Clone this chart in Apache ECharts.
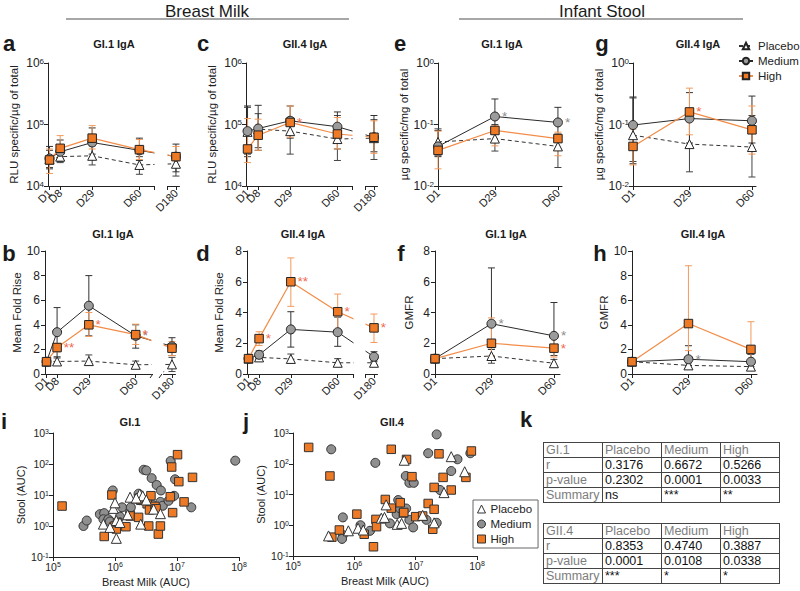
<!DOCTYPE html>
<html><head><meta charset="utf-8">
<script src="https://cdn.jsdelivr.net/npm/echarts@6/dist/echarts.min.js"></script>
<style>
html,body{margin:0;padding:0;background:#fff;}
#wrap{position:relative;width:800px;height:591px;overflow:hidden;}
#chart{position:absolute;left:0;top:0;width:800px;height:591px;}
table.k{position:absolute;border-collapse:collapse;font-family:'Liberation Sans',Arial,sans-serif;font-size:12.5px;color:#111;table-layout:fixed;}
table.k td{border:1.5px solid #444;height:14px;line-height:14px;padding:0 0 0 2px;white-space:nowrap;overflow:hidden;width:56px;}
table.k td.g{color:#7d7d7d;}
</style></head>
<body><div id="wrap"><div id="chart"></div></div>
<script>
// ---------------- DATA ----------------
const days = [1, 8, 29, 60, 180];
const stoolDays = [1, 29, 60];
const groups = ['Placebo', 'Medium', 'High'];

// a: GI.1 IgA breast milk (RLU specific/ug of total)
const aPlacebo = [27000, 30000, 31000, 22000, 23000];
const aPlaceboLo = [20000, 24000, 22000, 15500, 14500];
const aPlaceboHi = [38000, 40000, 45000, 30000, 35000];
const aMedium = [28000, 36000, 51000, 38000, 30000];
const aMediumLo = [19000, 25000, 33000, 26000, 17000];
const aMediumHi = [44000, 56000, 88000, 60000, 48000];
const aHigh = [26500, 41000, 60000, 39000, 30000];
const aHighLo = [16000, 28000, 40000, 27000, 20000];
const aHighHi = [40000, 66000, 96000, 57000, 44000];

// c: GII.4 IgA breast milk
const cPlacebo = [76000, 84000, 78000, 58000, 60000];
const cPlaceboLo = [30000, 42000, 33000, 26000, 27000];
const cPlaceboHi = [190000, 150000, 130000, 140000, 120000];
const cMedium = [78000, 86000, 115000, 92000, 62000];
const cMediumLo = [33000, 38000, 60000, 40000, 36000];
const cMediumHi = [200000, 205000, 200000, 160000, 140000];
const cHigh = [40000, 67000, 108000, 70000, 62000];
const cHighLo = [24000, 38000, 62000, 40000, 34000];
const cHighHi = [125000, 122000, 200000, 130000, 115000];
const cHighSig = ['', '', '*', '', ''];

// e: GI.1 IgA infant stool (ug specific/mg of total)
const ePlacebo = [0.052, 0.059, 0.044];
const ePlaceboLo = [0.031, 0.037, 0.020];
const ePlaceboHi = [0.085, 0.100, 0.070];
const eMedium = [0.044, 0.135, 0.108];
const eMediumLo = [0.030, 0.090, 0.065];
const eMediumHi = [0.080, 0.260, 0.190];
const eHigh = [0.038, 0.080, 0.059];
const eHighLo = [0.019, 0.045, 0.031];
const eHighHi = [0.078, 0.095, 0.075];
const eMediumSig = ['', '*', '*'];

// g: GII.4 IgA infant stool
const gPlacebo = [0.067, 0.048, 0.043];
const gPlaceboLo = [0.025, 0.017, 0.014];
const gPlaceboHi = [0.270, 0.150, 0.140];
const gMedium = [0.098, 0.125, 0.115];
const gMediumLo = [0.023, 0.050, 0.050];
const gMediumHi = [0.280, 0.330, 0.290];
const gHigh = [0.044, 0.160, 0.082];
const gHighLo = [0.022, 0.068, 0.033];
const gHighHi = [0.085, 0.390, 0.200];
const gHighSig = ['', '*', ''];

// b: GI.1 IgA mean fold rise
const bPlacebo = [1, 1.02, 1.05, 0.75, 0.78];
const bPlaceboLo = [1, 0.85, 0.80, 0.55, 0.20];
const bPlaceboHi = [1, 1.30, 1.55, 1.05, 1.35];
const bMedium = [1, 3.4, 5.55, 3.1, 2.25];
const bMediumLo = [1, 1.4, 3.1, 2.1, 1.5];
const bMediumHi = [1, 5.4, 8.0, 4.0, 2.95];
const bHigh = [1, 2.15, 4.0, 3.2, 2.1];
const bHighLo = [1, 1.8, 3.05, 2.4, 1.5];
const bHighHi = [1, 2.5, 5.0, 4.05, 2.65];
const bHighSig = ['', '**', '*', '*', ''];
const bMediumSig = ['', '', '', '*', ''];

// d: GII.4 IgA mean fold rise
const dPlacebo = [1, 1.08, 0.98, 0.73, 0.73];
const dPlaceboLo = [1, 0.95, 0.75, 0.50, 0.60];
const dPlaceboHi = [1, 1.20, 1.30, 1.00, 0.90];
const dMedium = [1, 1.25, 2.9, 2.72, 1.12];
const dMediumLo = [1, 1.0, 1.75, 1.8, 0.8];
const dMediumHi = [1, 1.5, 4.05, 3.7, 1.45];
const dHigh = [1, 2.3, 6.0, 4.05, 3.0];
const dHighLo = [1, 1.85, 4.4, 2.9, 2.05];
const dHighHi = [1, 2.75, 7.55, 5.2, 3.9];
const dHighSig = ['', '*', '**', '*', '*'];

// f: GI.1 IgA GMFR (stool)
const fPlacebo = [1, 1.17, 0.70];
const fPlaceboLo = [1, 0.70, 0.45];
const fPlaceboHi = [1, 1.60, 0.95];
const fMedium = [1, 3.27, 2.48];
const fMediumLo = [1, 1.6, 1.2];
const fMediumHi = [1, 6.9, 4.65];
const fHigh = [1, 2.0, 1.68];
const fHighLo = [1, 1.2, 1.1];
const fHighHi = [1, 3.65, 2.65];
const fMediumSig = ['', '*', '*'];
const fHighSig = ['', '', '*'];

// h: GII.4 IgA GMFR (stool)
const hPlacebo = [1, 0.70, 0.60];
const hPlaceboLo = [1, 0.50, 0.40];
const hPlaceboHi = [1, 0.90, 0.80];
const hMedium = [1, 1.2, 1.0];
const hMediumLo = [1, 0.7, 0.6];
const hMediumHi = [1, 2.3, 1.6];
const hHigh = [1, 4.1, 2.0];
const hHighLo = [1, 1.9, 1.0];
const hHighHi = [1, 8.8, 4.25];
const hMediumSig = ['', '*', ''];

// i: GI.1 scatter [breast milk AUC, stool AUC]
const iHigh = [[1.4e5,4.4],[6.7e5,0.46],[8.9e5,10],[1.0e6,1.0],[1.05e6,0.8],[1.5e6,0.95],[1.75e6,2.1],[2.4e6,1.9],[2.6e6,6.8],[2.4e6,7.5],[3.3e6,5.2],[3.6e6,3.3],[3.5e6,1.0],[3.8e6,9.5],[4.4e6,4.3],[5.0e6,0.55],[5.4e6,1.0],[7.8e6,8.8],[8.2e6,80],[8.5e6,2.7],[1.02e7,200],[1.07e7,27],[1.3e7,6.0],[1.78e7,37],[1.1e6,1.3],[4.6e6,3.6]];
const iMedium = [[3.1e5,1.0],[3.5e5,1.5],[5.7e5,2.4],[6.7e5,2.6],[6.5e5,1.65],[7.8e5,1.65],[8.3e5,1.4],[9.2e5,14],[1.2e6,2.0],[1.3e6,4.0],[1.75e6,2.9],[1.8e6,4.0],[2.4e6,11],[2.5e6,6.8],[2.9e6,65],[3.2e6,62],[3.9e6,35],[4.0e6,4.8],[4.7e6,21],[5.5e6,14],[5.4e6,6.0],[5.9e6,4.5],[7.3e6,6.5],[7.9e6,125],[9.3e6,32],[9.0e6,9.4],[1.7e7,4.0],[8.7e7,128]];
const iPlacebo = [[6.5e5,1.15],[8.3e5,0.9],[9.4e5,3.7],[1.0e6,5.6],[1.05e6,1.5],[1.05e6,0.4],[1.2e6,1.3],[1.75e6,8.5],[2.5e6,10.7],[2.8e6,9.4],[2.6e6,1.15],[3.2e6,6.9],[4.2e6,3.5],[5.4e6,2.5],[2.2e6,8.0],[1.6e6,2.3]];

// j: GII.4 scatter
const jHigh = [[1.8e5,340],[4.0e5,40],[4.3e5,0.41],[5.7e5,0.7],[1.1e6,2.3],[1.45e6,0.51],[2.05e6,0.2],[2.25e6,1.55],[2.3e6,0.9],[3.2e6,6.9],[4.0e6,295],[4.0e6,3.6],[5.6e6,5.4],[6.3e6,2.5],[7.1e6,138],[8.7e6,38],[1.0e7,1.9],[1.6e7,5.1],[2.0e7,3.3],[2.0e7,17],[2.4e7,210],[2.8e7,36],[1.9e7,0.74],[3.8e7,14],[6.6e7,36],[8.1e7,260],[6.4e6,2.6],[1.3e7,2.0]];
const jMedium = [[4.2e5,295],[6.5e5,1.8],[6.5e5,0.48],[6.3e5,0.36],[1.26e6,1.0],[1.8e6,0.66],[2.2e6,107],[3.8e6,1.15],[4.9e6,2.3],[5.2e6,6.6],[5.6e6,3.5],[6.9e6,40],[7.9e6,24],[9.3e6,24],[7.0e6,3.5],[7.9e6,1.5],[9.1e6,0.85],[2.2e7,900],[1.6e7,220],[4.8e7,140],[7.8e7,220],[3.8e7,58],[2.5e7,14],[1.5e7,1.5],[2.2e7,1.2]];
const jPlacebo = [[3.8e5,0.45],[8.0e5,0.66],[1.15e6,0.8],[1.4e6,0.7],[2.75e6,1.7],[3.1e6,1.8],[3.3e6,4.6],[5.0e6,1.07],[6.5e6,130],[3.8e7,170],[6.3e7,55],[2.9e7,11.5],[1.3e7,2.1],[5.9e6,1.15],[2.0e7,1.2]];

// k: correlation tables
const tableGI1 = [['GI.1','Placebo','Medium','High'],['r','0.3176','0.6672','0.5266'],['p-value','0.2302','0.0001','0.0033'],['Summary','ns','***','**']];
const tableGII4 = [['GII.4','Placebo','Medium','High'],['r','0.8353','0.4740','0.3887'],['p-value','0.0001','0.0108','0.0338'],['Summary','***','*','*']];

// ---------------- STYLE ----------------
const FONT = "'Liberation Sans', Arial, Helvetica, sans-serif";
const INK = '#222';
const SIG_RED = '#F2674C', SIG_GRAY = '#8d8d8d';
const STYLE = {
  Placebo: {symbol:'triangle', size:9, fill:'#ffffff', line:'#333', lw:1, dash:[4,3], err:'#444', z:3},
  Medium:  {symbol:'circle', size:9, fill:'#9b9b9b', line:'#2a2a2a', lw:1, dash:'solid', err:'#333', z:4},
  High:    {symbol:'rect', size:8.5, fill:'#EE7A26', line:'#F28C48', lw:1.2, dash:'solid', err:'#F39A5C', z:5}
};

const option = {animation:false, textStyle:{fontFamily:FONT}, grid:[], xAxis:[], yAxis:[], series:[], legend:[], graphic:[]};

function supFmt(v){ return '{b|10}{s|' + Math.round(Math.log10(v)) + '}'; }
const supRich = (fs) => ({b:{fontSize:fs, color:INK, fontFamily:FONT}, s:{fontSize:Math.round(fs*0.68), color:INK, fontFamily:FONT, verticalAlign:'top'}});

function errRender(color){
  return function(params, api){
    const x = api.value(0), lo = api.value(1), hi = api.value(2);
    const a = api.coord([x, lo]), b = api.coord([x, hi]);
    const w = 3.5, st = {stroke:color, lineWidth:1};
    return {type:'group', children:[
      {type:'line', shape:{x1:a[0], y1:a[1], x2:b[0], y2:b[1]}, style:st},
      {type:'line', shape:{x1:a[0]-w, y1:a[1], x2:a[0]+w, y2:a[1]}, style:st},
      {type:'line', shape:{x1:b[0]-w, y1:b[1], x2:b[0]+w, y2:b[1]}, style:st}
    ]};
  };
}

function dayAxis(gi, p, labelDays, tickDays, showLine){
  const xa = {gridIndex:gi, type:'value', min:p.xmin, max:p.xmax, position:'bottom', offset:0,
    axisLine:{show:showLine, onZero:false, lineStyle:{color:INK, width:1}},
    axisTick:{show:!!tickDays, length:4, inside:false, customValues:tickDays || [], lineStyle:{color:INK, width:1}},
    axisLabel:{show:true, customValues:labelDays, rotate:45, formatter:v => 'D' + v, fontSize:11, color:INK, margin:5, fontFamily:FONT,
      hideOverlap:false, showMinLabel:true, showMaxLabel:true},
    splitLine:{show:false}};
  if (p.brk){
    xa.breaks = [p.brk];
    xa.breakArea = {show:showLine, expandOnClick:false, zigzagAmplitude:0, zigzagZ:100, itemStyle:{color:'#fff', borderColor:'#fff', borderWidth:0, opacity:1}};
    xa.breakLabelLayout = {moveOverlap:false};
  }
  return xa;
}

function linePanel(p){
  const gi = option.grid.length;
  option.grid.push({left:p.left, top:p.top, width:p.width, height:p.height, outerBoundsMode:'none', containLabel:false});
  const xi = option.xAxis.length;
  // main day axis, plus overlay axis so that neighbouring labels (D1 / D8) are both shown
  const mainLabels = p.days.filter(d => !(p.overlayDays || []).includes(d));
  option.xAxis.push(dayAxis(gi, p, mainLabels, p.tickDays, true));
  if (p.overlayDays) option.xAxis.push(dayAxis(gi, p, p.overlayDays, null, false));
  const yi = option.yAxis.length;
  const ya = {gridIndex:gi, type:p.log ? 'log' : 'value', min:p.ymin, max:p.ymax,
    axisLine:{show:true, lineStyle:{color:INK, width:1}},
    axisTick:{show:true, length:4, lineStyle:{color:INK, width:1}},
    splitLine:{show:false},
    name:p.yname, nameLocation:'middle', nameGap:p.nameGap, nameTextStyle:{fontSize:11.5, color:INK, fontFamily:FONT}};
  if (p.log){
    ya.logBase = 10;
    ya.axisTick.customValues = p.yticks;
    ya.axisLabel = {customValues:p.yticks, formatter:supFmt, rich:supRich(12), margin:4};
  } else {
    ya.interval = p.yint;
    ya.axisLabel = {fontSize:12, color:INK, margin:5, fontFamily:FONT};
  }
  option.yAxis.push(ya);
  groups.forEach(g => {
    const s = STYLE[g], d = p.data[g];
    option.series.push({type:'custom', xAxisIndex:xi, yAxisIndex:yi, renderItem:errRender(s.err), silent:true, clip:false, z:1,
      encode:{x:0, y:[1,2]}, data:p.days.map((day,i) => [day, d.lo[i], d.hi[i]])});
  });
  groups.forEach(g => {
    const s = STYLE[g], d = p.data[g];
    option.series.push({type:'line', name:g, xAxisIndex:xi, yAxisIndex:yi, z:s.z, clip:false,
      symbol:s.symbol, symbolSize:s.size, showAllSymbol:true,
      itemStyle:{color:s.fill, borderColor:'#222', borderWidth:1},
      lineStyle:{color:s.line, width:s.lw, type:s.dash},
      label:{show:false}, labelLayout:{hideOverlap:false},
      data:p.days.map((day,i) => {
        const it = {value:[day, d.v[i]]};
        const sg = d.sig && d.sig[i];
        if (sg){
          const off = (d.sigOff && d.sigOff[i]) || [0, 3];
          it.label = {show:true, formatter:sg, position:'right', distance:2, offset:off,
            color:g === 'High' ? SIG_RED : SIG_GRAY, fontSize:13.5, lineHeight:12, fontFamily:FONT};
        }
        return it;
      })});
  });
}

function grp(v, lo, hi, sig, sigOff){ return {v, lo, hi, sig, sigOff}; }

const brk = {start:70, end:174, gap:8};
const bmTicks = [1, 8, 29, 60, 70, 174, 180];
const bmTicksSlash = [1, 8, 29, 60, 180];
const nearDays = [8];
// top row
linePanel({left:48, top:63, width:131, height:123, xmin:0, xmax:182, brk, days, overlayDays:nearDays, tickDays:bmTicks, log:true, ymin:1e4, ymax:1e6, yticks:[1e4,1e5,1e6],
  yname:'RLU specific/µg of total', nameGap:28,
  data:{Placebo:grp(aPlacebo,aPlaceboLo,aPlaceboHi), Medium:grp(aMedium,aMediumLo,aMediumHi), High:grp(aHigh,aHighLo,aHighHi)}});
linePanel({left:246, top:63, width:131, height:123, xmin:0, xmax:182, brk, days, overlayDays:nearDays, tickDays:bmTicks, log:true, ymin:1e4, ymax:1e6, yticks:[1e4,1e5,1e6],
  yname:'RLU specific/µg of total', nameGap:28,
  data:{Placebo:grp(cPlacebo,cPlaceboLo,cPlaceboHi), Medium:grp(cMedium,cMediumLo,cMediumHi), High:grp(cHigh,cHighLo,cHighHi,cHighSig,[null,null,[0,-6],null,null])}});
linePanel({left:438, top:63, width:124, height:123, xmin:1, xmax:62, days:stoolDays, tickDays:stoolDays, log:true, ymin:0.01, ymax:1, yticks:[0.01,0.1,1],
  yname:'µg specific/mg of total', nameGap:28,
  data:{Placebo:grp(ePlacebo,ePlaceboLo,ePlaceboHi), Medium:grp(eMedium,eMediumLo,eMediumHi,eMediumSig,[null,[0,-1],[0,-1]]), High:grp(eHigh,eHighLo,eHighHi)}});
linePanel({left:633, top:63, width:123, height:123, xmin:1, xmax:62, days:stoolDays, tickDays:stoolDays, log:true, ymin:0.01, ymax:1, yticks:[0.01,0.1,1],
  yname:'µg specific/mg of total', nameGap:28,
  data:{Placebo:grp(gPlacebo,gPlaceboLo,gPlaceboHi), Medium:grp(gMedium,gMediumLo,gMediumHi), High:grp(gHigh,gHighLo,gHighHi,gHighSig,[null,[0,-1],null])}});
// middle row
linePanel({left:45, top:251, width:130, height:123, xmin:0, xmax:182, brk, days, overlayDays:nearDays, tickDays:bmTicksSlash, log:false, ymin:0, ymax:10, yint:2,
  yname:'Mean Fold Rise', nameGap:22,
  data:{Placebo:grp(bPlacebo,bPlaceboLo,bPlaceboHi), Medium:grp(bMedium,bMediumLo,bMediumHi,bMediumSig,[null,null,null,[6,3],null]), High:grp(bHigh,bHighLo,bHighHi,bHighSig,[null,[2,3],[0,-3],[6,-10],null])}});
linePanel({left:247, top:251, width:130, height:123, xmin:0, xmax:182, brk, days, overlayDays:nearDays, tickDays:bmTicks, log:false, ymin:0, ymax:8, yint:2,
  yname:'Mean Fold Rise', nameGap:22,
  data:{Placebo:grp(dPlacebo,dPlaceboLo,dPlaceboHi), Medium:grp(dMedium,dMediumLo,dMediumHi), High:grp(dHigh,dHighLo,dHighHi,dHighSig)}});
linePanel({left:435, top:251, width:125, height:123, xmin:1, xmax:63, days:stoolDays, tickDays:stoolDays, log:false, ymin:0, ymax:8, yint:2,
  yname:'GMFR', nameGap:20,
  data:{Placebo:grp(fPlacebo,fPlaceboLo,fPlaceboHi), Medium:grp(fMedium,fMediumLo,fMediumHi,fMediumSig,[null,[2,-1],[5,-4]]), High:grp(fHigh,fHighLo,fHighHi,fHighSig,[null,null,[5,7]])}});
linePanel({left:632, top:251, width:125, height:123, xmin:1, xmax:63, days:stoolDays, tickDays:stoolDays, log:false, ymin:0, ymax:10, yint:2,
  yname:'GMFR', nameGap:20,
  data:{Placebo:grp(hPlacebo,hPlaceboLo,hPlaceboHi), Medium:grp(hMedium,hMediumLo,hMediumHi,hMediumSig,[null,[2,-3],null]), High:grp(hHigh,hHighLo,hHighHi)}});

// scatter panels
const SC = {
  Medium:{symbol:'circle', size:9, fill:'#8f8f8f', z:3},
  High:{symbol:'rect', size:8.5, fill:'#EE7A26', z:4},
  Placebo:{symbol:'triangle', size:10, fill:'#ffffff', z:5}
};
function scatterPanel(p){
  const gi = option.grid.length;
  option.grid.push({left:p.left, top:p.top, width:p.width, height:p.height, outerBoundsMode:'none', containLabel:false});
  const xi = option.xAxis.length, yi = option.yAxis.length;
  const ticksX = [1e5,1e6,1e7,1e8], ticksY = [0.1,1,10,100,1000];
  option.xAxis.push({gridIndex:gi, type:'log', logBase:10, min:1e5, max:1e8,
    axisLine:{show:true, onZero:false, lineStyle:{color:INK}}, axisTick:{show:true, length:4, customValues:ticksX, lineStyle:{color:INK}},
    axisLabel:{customValues:ticksX, formatter:supFmt, rich:supRich(10.5), margin:4}, splitLine:{show:false},
    name:'Breast Milk (AUC)', nameLocation:'middle', nameGap:19, nameTextStyle:{fontSize:11, color:INK, fontFamily:FONT}});
  option.yAxis.push({gridIndex:gi, type:'log', logBase:10, min:0.1, max:1000,
    axisLine:{show:true, onZero:false, lineStyle:{color:INK}}, axisTick:{show:true, length:4, customValues:ticksY, lineStyle:{color:INK}},
    axisLabel:{customValues:ticksY, formatter:supFmt, rich:supRich(10.5), margin:4}, splitLine:{show:false},
    name:'Stool (AUC)', nameLocation:'middle', nameGap:27, nameTextStyle:{fontSize:11, color:INK, fontFamily:FONT}});
  ['Medium','High','Placebo'].forEach(g => {
    const s = SC[g];
    option.series.push({type:'scatter', name:g, xAxisIndex:xi, yAxisIndex:yi, z:s.z, symbol:s.symbol, symbolSize:s.size,
      itemStyle:{color:s.fill, borderColor:'#333', borderWidth:1, opacity:1}, data:p.data[g]});
  });
}
scatterPanel({left:53, top:433, width:186, height:124, data:{Medium:iMedium, High:iHigh, Placebo:iPlacebo}});
scatterPanel({left:293, top:433, width:184, height:123, data:{Medium:jMedium, High:jHigh, Placebo:jPlacebo}});

// legends
option.legend.push({data:groups, orient:'vertical', left:738, top:40, itemWidth:14, itemHeight:8, itemGap:3,
  selectedMode:false, textStyle:{fontSize:11.5, color:INK, fontFamily:FONT}, padding:0});
option.legend.push({data:[
    {name:'Placebo', icon:'triangle', itemStyle:{color:'#fff', borderColor:'#333', borderWidth:1}},
    {name:'Medium', icon:'circle', itemStyle:{color:'#8f8f8f', borderColor:'#333', borderWidth:1}},
    {name:'High', icon:'rect', itemStyle:{color:'#EE7A26', borderColor:'#333', borderWidth:1}}],
  orient:'vertical', left:473, top:500, itemWidth:8, itemHeight:8, itemGap:3, selectedMode:false,
  borderColor:'#666', borderWidth:1, padding:[3,6,3,4], textStyle:{fontSize:11.5, color:INK, fontFamily:FONT}});

// texts
function txt(t, x, y, size, weight){
  return {type:'text', x, y, silent:true, style:{text:t, fill:'#1a1a1a', fontSize:size, fontWeight:weight || 'normal', fontFamily:FONT,
    align:'center', verticalAlign:'middle', textAlign:'center', textVerticalAlign:'middle'}};
}
option.graphic.push(txt('Breast Milk', 207, 11, 17));
option.graphic.push(txt('Infant Stool', 602, 11, 17));
option.graphic.push({type:'line', silent:true, shape:{x1:66, y1:19, x2:349, y2:19}, style:{stroke:'#8a8a8a', lineWidth:1.5}});
option.graphic.push({type:'line', silent:true, shape:{x1:459, y1:19, x2:743, y2:19}, style:{stroke:'#8a8a8a', lineWidth:1.5}});
// axis break marks for panel b
option.graphic.push({type:'line', silent:true, shape:{x1:150, y1:378, x2:155, y2:371}, style:{stroke:INK, lineWidth:1}});
option.graphic.push({type:'line', silent:true, shape:{x1:159, y1:378, x2:164, y2:371}, style:{stroke:INK, lineWidth:1}});
const letters = [['a',9,43],['c',203,43],['e',400,43],['g',602,43],['b',9,253],['d',203,253],['f',401,253],['h',600,253],['i',4,421],['j',246,421],['k',526,419]];
letters.forEach(l => option.graphic.push(txt(l[0], l[1], l[2], 22, 'bold')));
const titles = [['GI.1 IgA',114,44],['GII.4 IgA',305,44],['GI.1 IgA',502,44],['GII.4 IgA',698,44],['GI.1 IgA',113,234],['GII.4 IgA',303,234],['GI.1 IgA',506,234],['GII.4 IgA',703,234],['GI.1',130,422],['GII.4',392,422]];
titles.forEach(t => option.graphic.push(txt(t[0], t[1], t[2], 11, 'bold')));

const chart = echarts.init(document.getElementById('chart'), null, {renderer:'svg', width:800, height:591});
chart.setOption(option);

// tables (k)
function makeTable(rows, left, top){
  const t = document.createElement('table');
  t.className = 'k';
  t.style.left = left + 'px'; t.style.top = top + 'px';
  rows.forEach((r, ri) => {
    const tr = document.createElement('tr');
    r.forEach((c, ci) => {
      const td = document.createElement('td');
      td.textContent = c;
      if (ri === 0 || ci === 0) td.className = 'g';
      tr.appendChild(td);
    });
    t.appendChild(tr);
  });
  document.getElementById('wrap').appendChild(t);
}
makeTable(tableGI1, 543, 442);
makeTable(tableGII4, 543, 523);
</script></body></html>
